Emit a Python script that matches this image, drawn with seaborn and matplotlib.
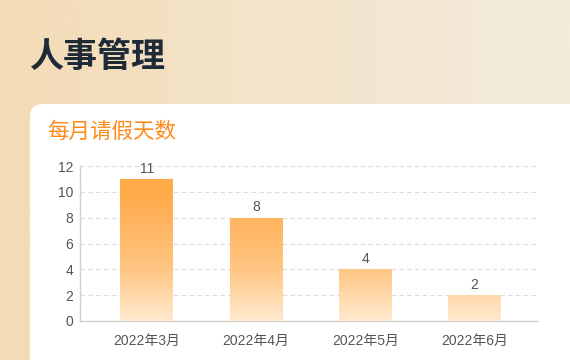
import numpy as np
import pandas as pd
import matplotlib
matplotlib.use("Agg")
import matplotlib.pyplot as plt
from matplotlib.colors import LinearSegmentedColormap
from matplotlib.patches import FancyBboxPatch
import seaborn as sns

# data
months = ['2022年3月', '2022年4月', '2022年5月', '2022年6月']
leave_days = [11, 8, 4, 2]
y_ticks = [0, 2, 4, 6, 8, 10, 12]

df = pd.DataFrame({'month': months, 'days': leave_days})

sns.set_style("white")
# Liberation for the digits, CJK font for the rest
plt.rcParams['font.family'] = ['Liberation Sans', 'Noto Sans CJK SC', 'DejaVu Sans']

W, H = 570, 360
fig = plt.figure(figsize=(W / 100, H / 100), dpi=100)

# background with horizontal gradient, in pixel coords
bg = fig.add_axes([0, 0, 1, 1])
bg.set_xlim(0, W)
bg.set_ylim(H, 0)
bg.axis('off')
bg_cmap = LinearSegmentedColormap.from_list('bg', ['#F3DBB6', '#F3E5CC', '#F4EBDC'])
bg.imshow(np.linspace(0, 1, 256).reshape(1, -1), cmap=bg_cmap, aspect='auto',
          extent=(0, W, H, 0), zorder=0)
card = FancyBboxPatch((30, 104), 600, 300, boxstyle="round,pad=0,rounding_size=13",
                      facecolor='white', edgecolor='none', zorder=1)
bg.add_patch(card)
bg.text(29, 57, '人事管理', fontsize=24.5, fontweight='bold', color='#1F2A37',
        va='center', ha='left', zorder=2, family=['Noto Sans CJK SC'])
bg.text(47, 132, '每月请假天数', fontsize=15.5, color='#FF8A1C',
        va='center', ha='left', zorder=2, family=['Noto Sans CJK SC'])

# chart
ax = fig.add_axes([80 / W, 1 - 321 / H, (537 - 80) / W, (321 - 166) / H])
ax.set_facecolor('none')
sns.barplot(data=df, x='month', y='days', width=0.48, color='#FFB45E', ax=ax, zorder=3)

ax.set_ylim(0, 12)
ax.set_xlim(-0.61, 3.57)
ax.set_yticks(y_ticks)
ax.set_xlabel('')
ax.set_ylabel('')
ax.yaxis.grid(True, linestyle=(0, (4, 3)), color='#DCDCDC', linewidth=0.8)
ax.set_axisbelow(True)
for s in ['top', 'right']:
    ax.spines[s].set_visible(False)
for s in ['left', 'bottom']:
    ax.spines[s].set_color('#D0D0D0')
    ax.spines[s].set_linewidth(1)
ax.tick_params(axis='both', length=0, labelsize=10, colors='#555555')
ax.tick_params(axis='y', pad=5)
ax.tick_params(axis='x', pad=9)

# gradient fill clipped to each bar
bar_cmap = LinearSegmentedColormap.from_list(
    'bar', [(0, '#FFE9CF'), (0.35, '#FFC682'), (0.7, '#FFB25C'), (0.85, '#FFAC4A'), (1, '#FFAB48')])
grad = np.linspace(0, 1, 256).reshape(-1, 1)
for p in ax.patches:
    p.set_facecolor('none')
    p.set_edgecolor('none')
    im = ax.imshow(grad, cmap=bar_cmap, origin='lower', aspect='auto',
                   extent=(p.get_x(), p.get_x() + p.get_width(), 0, 11.5), zorder=3)
    im.set_clip_path(p)
ax.set_xlim(-0.61, 3.57)
ax.set_ylim(0, 12)

for i, v in enumerate(leave_days):
    ax.text(i, v + 0.25, str(v), ha='center', va='bottom', fontsize=10, color='#555555', zorder=4)

fig.savefig('out.png', dpi=100)
